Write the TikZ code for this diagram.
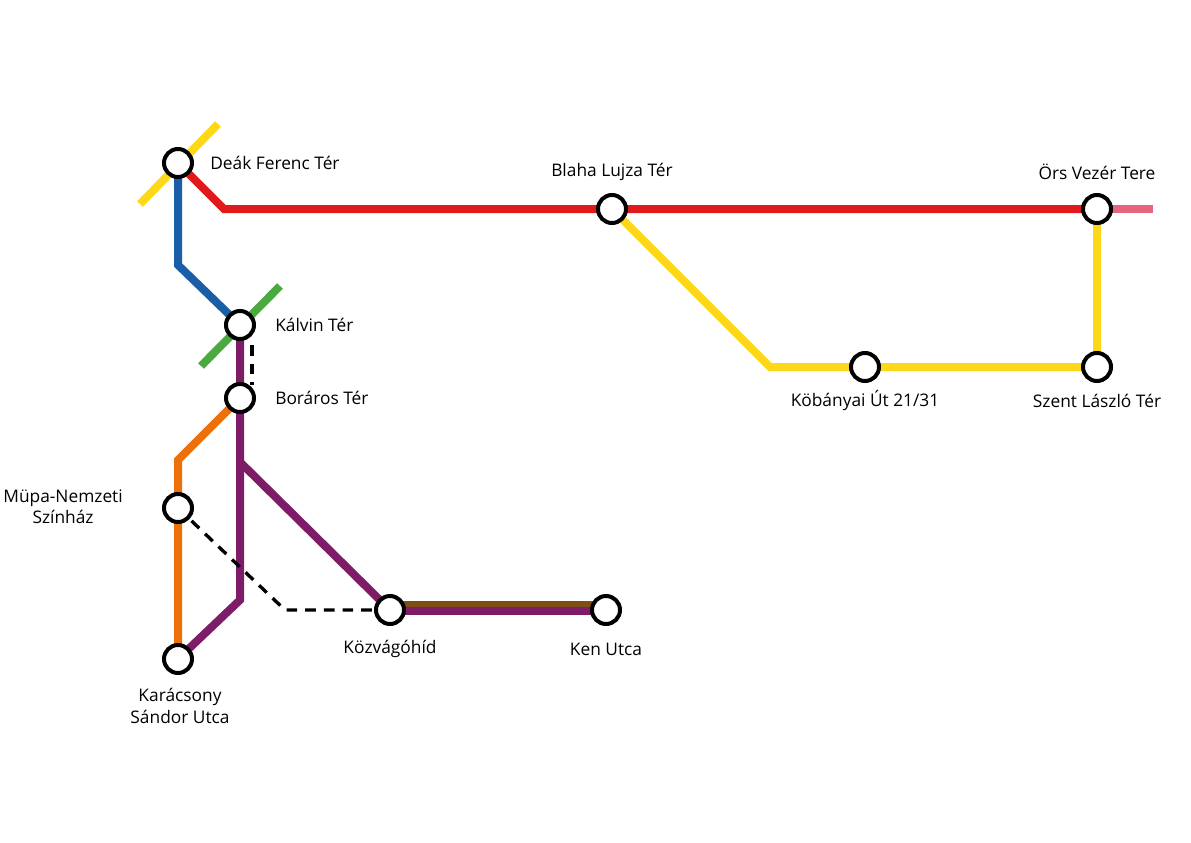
\documentclass[tikz,border=0pt]{standalone}
\usepackage{fontspec}
\setmainfont{Open Sans}
\begin{document}
\begin{tikzpicture}[x=0.75pt,y=-0.75pt,
  ln/.style={line width=6pt},
  st/.style={circle,draw=black,fill=white,line width=3pt,minimum size=21pt,inner sep=0pt},
  lbl/.style={font=\fontsize{13pt}{16pt}\selectfont,align=center,inner sep=0pt},
  dsh/.style={line width=2.5pt,dash pattern=on 8pt off 6pt}]
\useasboundingbox (0,0) rectangle (1191,842);
\definecolor{cyel}{HTML}{FDD818}
\definecolor{cred}{HTML}{E0191C}
\definecolor{cpink}{HTML}{E8647C}
\definecolor{cblue}{HTML}{1A5EA8}
\definecolor{cgreen}{HTML}{4BAA3F}
\definecolor{cpurp}{HTML}{7E1C68}
\definecolor{corange}{HTML}{EC710A}
\definecolor{cbrown}{HTML}{7E4E16}
\coordinate (deak) at (178,163);
\coordinate (kalvin) at (240,325);
\coordinate (boraros) at (240,398);
\coordinate (mupa) at (178,508);
\coordinate (karacs) at (178,659);
\coordinate (kozv) at (390,610);
\coordinate (ken) at (606,610);
\coordinate (blaha) at (612,209);
\coordinate (ors) at (1097,209);
\coordinate (szent) at (1097,367);
\coordinate (kob) at (865,367);
\coordinate (y1) at (140,204); \coordinate (y2) at (218,124);
\coordinate (g1) at (201,366); \coordinate (g2) at (280,286);
\coordinate (pinkend) at (1153,209);
% lines
\draw[ln,cyel] (y1) -- (y2);
\draw[ln,cyel] (blaha) -- (770,367) -- (kob) -- (szent) -- (ors);
\draw[ln,cred] (deak) -- (224,209) -- (blaha) -- (ors);
\draw[ln,cpink] (ors) -- (pinkend);
\draw[ln,cblue] (deak) -- (178,265) -- (kalvin);
\draw[ln,cgreen] (g1) -- (g2);
\draw[ln,corange] (boraros) -- (178,460) -- (karacs);
\draw[ln,cpurp] (kalvin) -- (240,600) -- (karacs);
\draw[ln,cpurp] (240,462) -- (kozv);
\draw[ln,cbrown] ([yshift=4]kozv) -- ([yshift=4]ken);
\draw[ln,cpurp] ([yshift=-1]kozv) -- ([yshift=-1]ken);
\draw[dsh] (252,345) -- (252,385);
\draw[dsh] (mupa) -- (285,610) -- (kozv);
% stations
\foreach \s in {deak,kalvin,boraros,mupa,karacs,kozv,ken,blaha,ors,szent,kob}
  \node[st] (n\s) at (\s) {};
% labels
\node[lbl,anchor=west] (ldeak) at (210,163) {Deák Ferenc Tér};
\node[lbl] (lblaha) at (612,172) {Blaha Lujza Tér};
\node[lbl] (lors) at (1097,172) {Örs Vezér Tere};
\node[lbl,anchor=west] (lkalvin) at (275,325) {Kálvin Tér};
\node[lbl,anchor=west] (lbor) at (275,398) {Boráros Tér};
\node[lbl,anchor=east] (lmupa) at (123,507) {Müpa-Nemzeti\\Színház};
\node[lbl] (lkar) at (180,706) {Karácsony\\Sándor Utca};
\node[lbl] (lkoz) at (390,649) {Közvágóhíd};
\node[lbl] (lken) at (606,649) {Ken Utca};
\node[lbl] (lkob) at (865,401) {Köbányai Út 21/31};
\node[lbl] (lszent) at (1097,401) {Szent László Tér};
\end{tikzpicture}
\end{document}
